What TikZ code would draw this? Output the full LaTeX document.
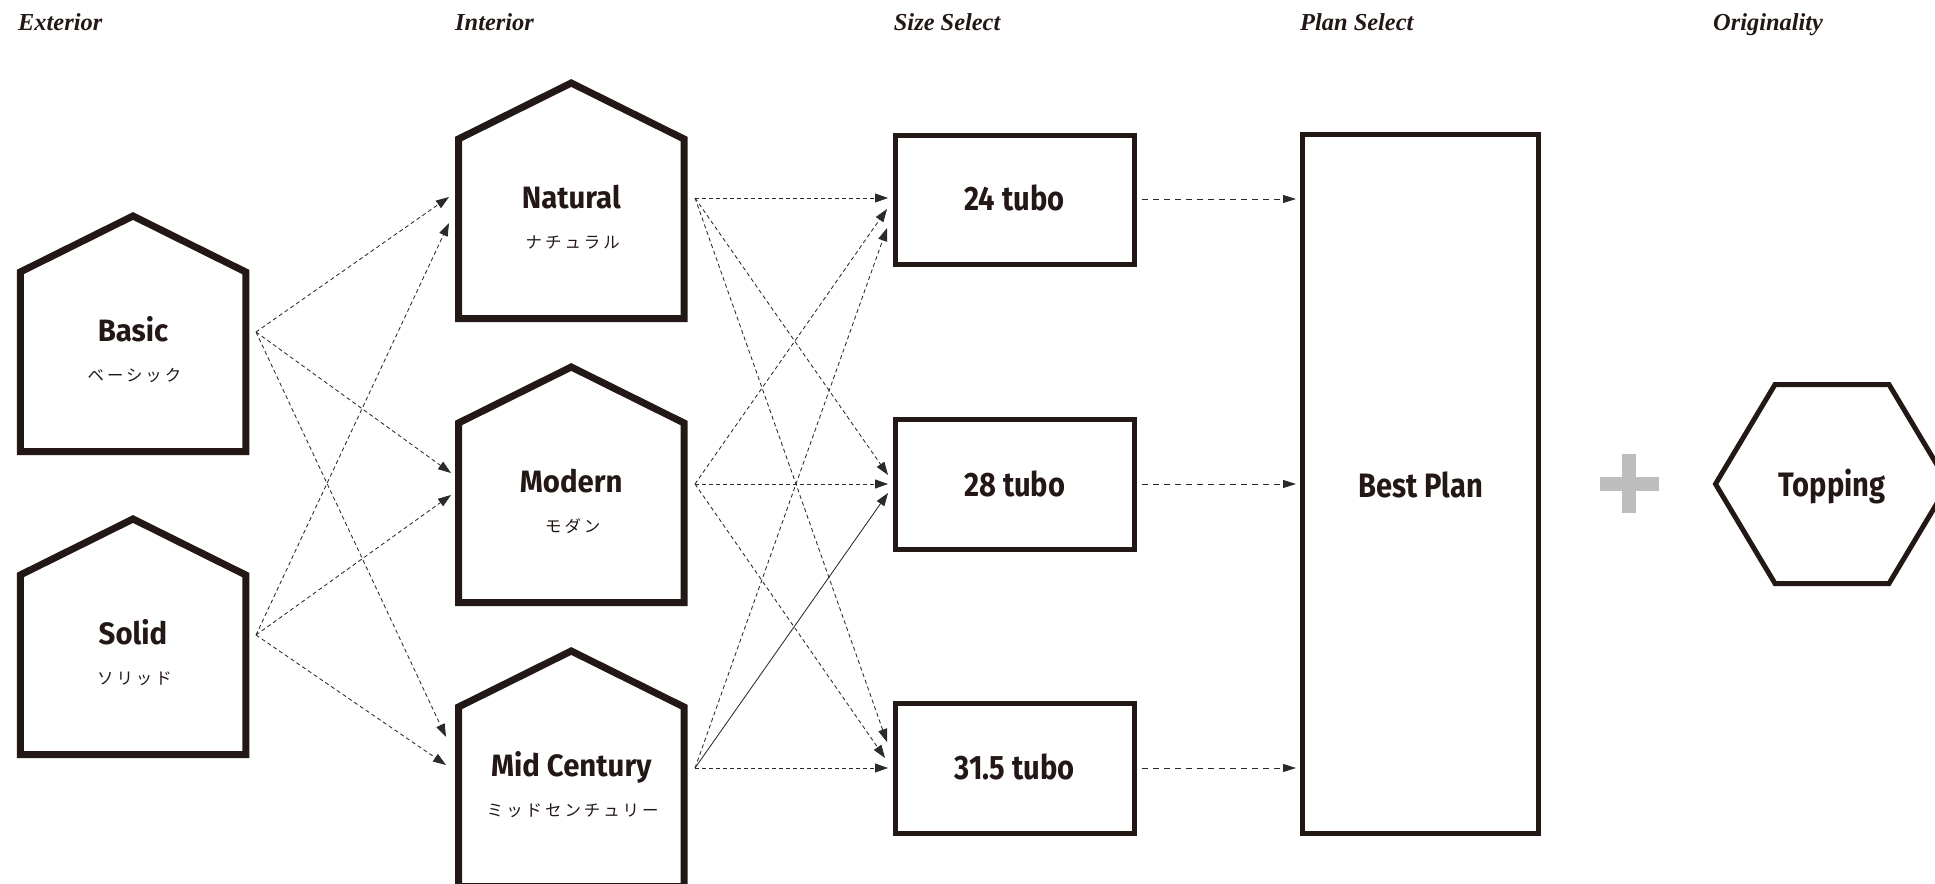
\documentclass[tikz,border=0pt]{standalone}
\usepackage{fontspec}
\setmainfont{Liberation Serif}
\newfontfamily\sansb[FakeStretch=0.86]{Fira Sans}
\newfontfamily\sanst[FakeStretch=0.95]{Fira Sans}
\newfontfamily\jp[LetterSpace=18]{Noto Sans CJK JP}
\usetikzlibrary{arrows.meta,calc}
\definecolor{ink}{HTML}{231815}
\definecolor{dashc}{HTML}{2a2a2a}
\definecolor{plusgray}{HTML}{BDBDBD}
\newcommand\drawhouse[2]{\draw[house] (#1-112.75,#2+60) -- (#1,#2+4) -- (#1+112.75,#2+60) -- (#1+112.75,#2+239.5) -- (#1-112.75,#2+239.5) -- cycle;}
\begin{document}
\begin{tikzpicture}[x=1bp,y=-1bp,
  house/.style={draw=ink, line width=7bp, line join=miter, miter limit=10},
  box/.style={draw=ink, line width=5bp, line join=miter, inner sep=0pt},
  title/.style={font=\sanst\bfseries\fontsize{31}{31}\selectfont, text=ink, anchor=base, inner sep=0pt},
  kana/.style={font=\jp\fontsize{16.5}{16.5}\selectfont, text=ink, anchor=base, inner sep=0pt},
  bigtext/.style={font=\sansb\bfseries\fontsize{34}{34}\selectfont, text=ink, anchor=base, inner sep=0pt},
  header/.style={font=\bfseries\itshape\fontsize{24.5}{24.5}\selectfont, text=ink, anchor=base west, inner sep=0pt},
  conn/.style={draw=dashc, line width=0.85bp, dash pattern=on 4bp off 3bp, -{Triangle[length=13bp,width=9bp]}},
  connsolid/.style={draw=dashc, line width=0.85bp, -{Triangle[length=13bp,width=9bp]}},
  connlong/.style={draw=dashc, line width=0.85bp, dash pattern=on 6bp off 5bp, -{Triangle[length=13bp,width=8bp]}}
]
\useasboundingbox (0,0) rectangle (1935,884);

% headers
\node[header] (hExt) at (18,30.5) {Exterior};
\node[header] (hInt) at (455,30.5) {Interior};
\node[header] (hSize) at (893.7,30.5) {Size Select};
\node[header] (hPlan) at (1300,30.5) {Plan Select};
\node[header] (hOrig) at (1713,30.5) {Originality};

% houses
\drawhouse{133}{212}
\drawhouse{133}{515}
\drawhouse{571.25}{79}
\drawhouse{571.25}{363}
\drawhouse{571.25}{647}

\node[title] (basic) at (133,341) {Basic};
\node[kana] (basicK) at (134.5,381) {ベーシック};
\node[title] (solid) at (133,644) {Solid};
\node[kana] (solidK) at (134.5,684) {ソリッド};
\node[title] (natural) at (571.25,208) {Natural};
\node[kana] (naturalK) at (572.75,248) {ナチュラル};
\node[title] (modern) at (571.25,492) {Modern};
\node[kana] (modernK) at (572.75,532) {モダン};
\node[title] (mid) at (571.25,776) {Mid Century};
\node[kana] (midK) at (572.75,816) {ミッドセンチュリー};

% size boxes
\node[box, minimum width=239bp, minimum height=129.3bp] (b24) at (1014.7,200) {};
\node[box, minimum width=239bp, minimum height=129.3bp] (b28) at (1014.7,484.5) {};
\node[box, minimum width=239bp, minimum height=129.3bp] (b315) at (1014.7,768.5) {};
\node[bigtext] (t24) at (1014.7,210.7) {24 tubo};
\node[bigtext] (t28) at (1014.7,496) {28 tubo};
\node[bigtext] (t315) at (1014.7,779.5) {31.5 tubo};

% best plan
\node[box, minimum width=236bp, minimum height=698.5bp] (best) at (1420.5,484.25) {};
\node[bigtext] (bestT) at (1420.5,497.5) {Best Plan};

% plus
\fill[plusgray] (1599.5,476.5) rectangle (1658.5,490.5);
\fill[plusgray] (1622,454) rectangle (1636,513);

% hexagon
\draw[box] (1715.5,484) -- (1775,384.5) -- (1889,384.5) -- (1948.5,484) -- (1889,583.5) -- (1775,583.5) -- cycle;
\node[bigtext] (topping) at (1832,496.5) {Topping};

% connector end points
\coordinate (basicR) at (256,332);
\coordinate (solidR) at (256,635);
\coordinate (natIn1) at (449,197);
\coordinate (natIn2) at (449,223);
\coordinate (modIn1) at (451,473);
\coordinate (modIn2) at (451,495);
\coordinate (midIn1) at (446,737);
\coordinate (midIn2) at (446,765);
\coordinate (natR) at (695,198);
\coordinate (modR) at (695,484);
\coordinate (midR) at (695,768);
\coordinate (in24a) at (888,198);
\coordinate (in24b) at (887,209);
\coordinate (in24c) at (887,228);
\coordinate (in28a) at (888,475);
\coordinate (in28b) at (888,484);
\coordinate (in28c) at (888,493);
\coordinate (in315a) at (887,742);
\coordinate (in315b) at (885,758);
\coordinate (in315c) at (888,768);
\coordinate (out24) at (1142,199);
\coordinate (out28) at (1142,484);
\coordinate (out315) at (1142,768);
\coordinate (bp1) at (1296,199);
\coordinate (bp2) at (1296,484);
\coordinate (bp3) at (1296,768);

% exterior -> interior
\draw[conn] (basicR) -- (natIn1);
\draw[conn] (basicR) -- (modIn1);
\draw[conn] (basicR) -- (midIn1);
\draw[conn] (solidR) -- (natIn2);
\draw[conn] (solidR) -- (modIn2);
\draw[conn] (solidR) -- (midIn2);

% interior -> size
\draw[conn] (natR) -- (in24a);
\draw[conn] (natR) -- (in28a);
\draw[conn] (natR) -- (in315a);
\draw[conn] (modR) -- (in24b);
\draw[conn] (modR) -- (in28b);
\draw[conn] (modR) -- (in315b);
\draw[conn] (midR) -- (in24c);
\draw[connsolid] (midR) -- (in28c);
\draw[conn] (midR) -- (in315c);

% size -> plan
\draw[connlong] (out24) -- (bp1);
\draw[connlong] (out28) -- (bp2);
\draw[connlong] (out315) -- (bp3);
\end{tikzpicture}
\end{document}
